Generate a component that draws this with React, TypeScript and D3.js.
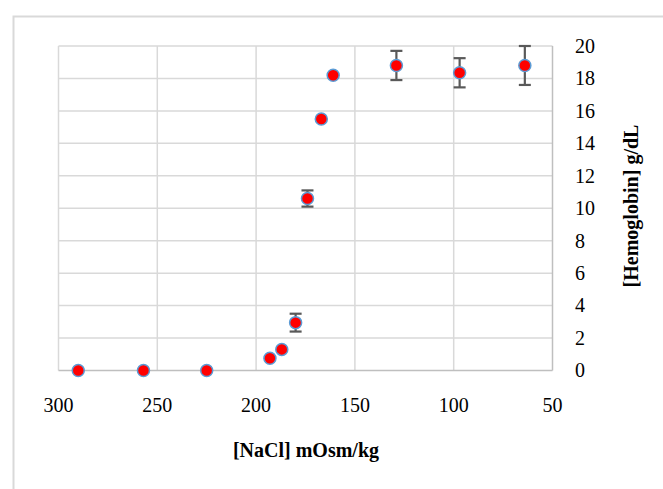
import React, { useEffect, useRef } from 'react';
import * as d3 from 'd3';

// [NaCl] in mOsm/kg vs released hemoglobin
const nacl = [290, 257, 225, 193, 187, 180, 174, 167, 161, 129, 97, 64];
const hemoglobin = [0, 0, 0, 0.75, 1.3, 2.95, 10.6, 15.5, 18.2, 18.8, 18.35, 18.8];
const errors = [0, 0, 0, 0, 0, 0.55, 0.5, 0, 0, 0.9, 0.9, 1.2];
const xTicks = [300, 250, 200, 150, 100, 50];
const yTicks = [0, 2, 4, 6, 8, 10, 12, 14, 16, 18, 20];

const FONT = '"Liberation Serif", "Times New Roman", serif';

const App = () => {
  const svgRef = useRef<SVGSVGElement>(null);

  useEffect(() => {
    const svg = d3.select(svgRef.current);
    svg.selectAll('*').remove();

    const width = 663;
    const height = 489;

    const x = d3.scaleLinear().domain([300, 50]).range([58.5, 552.5]);
    const y = d3.scaleLinear().domain([0, 20]).range([370.5, 46]);

    svg.attr('width', width).attr('height', height);

    // chart frame
    svg.append('rect')
      .attr('x', 13.5)
      .attr('y', 16.5)
      .attr('width', 700)
      .attr('height', 520)
      .attr('fill', 'white')
      .attr('stroke', '#d9d9d9')
      .attr('stroke-width', 2);

    const data = nacl.map((n, i) => ({ n, h: hemoglobin[i], e: errors[i] }));

    // gridlines
    svg.append('g')
      .selectAll('line')
      .data(yTicks.filter(t => t > 0))
      .enter()
      .append('line')
      .attr('x1', x(300))
      .attr('x2', x(50))
      .attr('y1', d => y(d))
      .attr('y2', d => y(d))
      .attr('stroke', '#d9d9d9')
      .attr('stroke-width', 1.5);

    svg.append('g')
      .selectAll('line')
      .data(xTicks.filter(t => t !== 50))
      .enter()
      .append('line')
      .attr('x1', d => x(d))
      .attr('x2', d => x(d))
      .attr('y1', y(0))
      .attr('y2', y(20))
      .attr('stroke', '#d9d9d9')
      .attr('stroke-width', 1.5);

    // axis lines (bottom + right)
    svg.append('line')
      .attr('x1', x(300)).attr('x2', x(50))
      .attr('y1', y(0)).attr('y2', y(0))
      .attr('stroke', '#bfbfbf').attr('stroke-width', 1.5);
    svg.append('line')
      .attr('x1', x(50)).attr('x2', x(50))
      .attr('y1', y(0)).attr('y2', y(20))
      .attr('stroke', '#bfbfbf').attr('stroke-width', 1.5);

    // tick labels
    svg.append('g')
      .selectAll('text')
      .data(xTicks)
      .enter()
      .append('text')
      .attr('x', d => x(d))
      .attr('y', 412)
      .attr('text-anchor', 'middle')
      .style('font-family', FONT)
      .style('font-size', '20px')
      .style('fill', '#000')
      .text(d => d);

    svg.append('g')
      .selectAll('text')
      .data(yTicks)
      .enter()
      .append('text')
      .attr('x', 575)
      .attr('y', d => y(d))
      .attr('dy', '0.34em')
      .attr('text-anchor', 'start')
      .style('font-family', FONT)
      .style('font-size', '20px')
      .style('fill', '#000')
      .text(d => d);

    // error bars
    const eb = svg.append('g')
      .selectAll('g')
      .data(data.filter(d => d.e > 0))
      .enter()
      .append('g')
      .attr('stroke', '#595959')
      .attr('stroke-width', 2.2);
    eb.append('line')
      .attr('x1', d => x(d.n)).attr('x2', d => x(d.n))
      .attr('y1', d => y(d.h - d.e)).attr('y2', d => y(d.h + d.e));
    eb.append('line')
      .attr('x1', d => x(d.n) - 6).attr('x2', d => x(d.n) + 6)
      .attr('y1', d => y(d.h + d.e)).attr('y2', d => y(d.h + d.e));
    eb.append('line')
      .attr('x1', d => x(d.n) - 6).attr('x2', d => x(d.n) + 6)
      .attr('y1', d => y(d.h - d.e)).attr('y2', d => y(d.h - d.e));

    // markers
    svg.append('g')
      .selectAll('circle')
      .data(data)
      .enter()
      .append('circle')
      .attr('cx', d => x(d.n))
      .attr('cy', d => y(d.h))
      .attr('r', 6)
      .attr('fill', '#ff0000')
      .attr('stroke', '#5b9bd5')
      .attr('stroke-width', 1.5);

    // axis titles
    svg.append('text')
      .attr('x', 306)
      .attr('y', 457)
      .attr('text-anchor', 'middle')
      .style('font-family', FONT)
      .style('font-size', '20px')
      .style('font-weight', 'bold')
      .text('[NaCl] mOsm/kg');

    svg.append('text')
      .attr('transform', 'translate(638,206) rotate(-90)')
      .attr('text-anchor', 'middle')
      .style('font-family', FONT)
      .style('font-size', '20px')
      .style('font-weight', 'bold')
      .text('[Hemoglobin] g/dL');
  }, []);

  return (
    <svg
      ref={svgRef}
      style={{ position: 'absolute', left: 0, top: 0, display: 'block', overflow: 'hidden' }}
    ></svg>
  );
};

export default App;
